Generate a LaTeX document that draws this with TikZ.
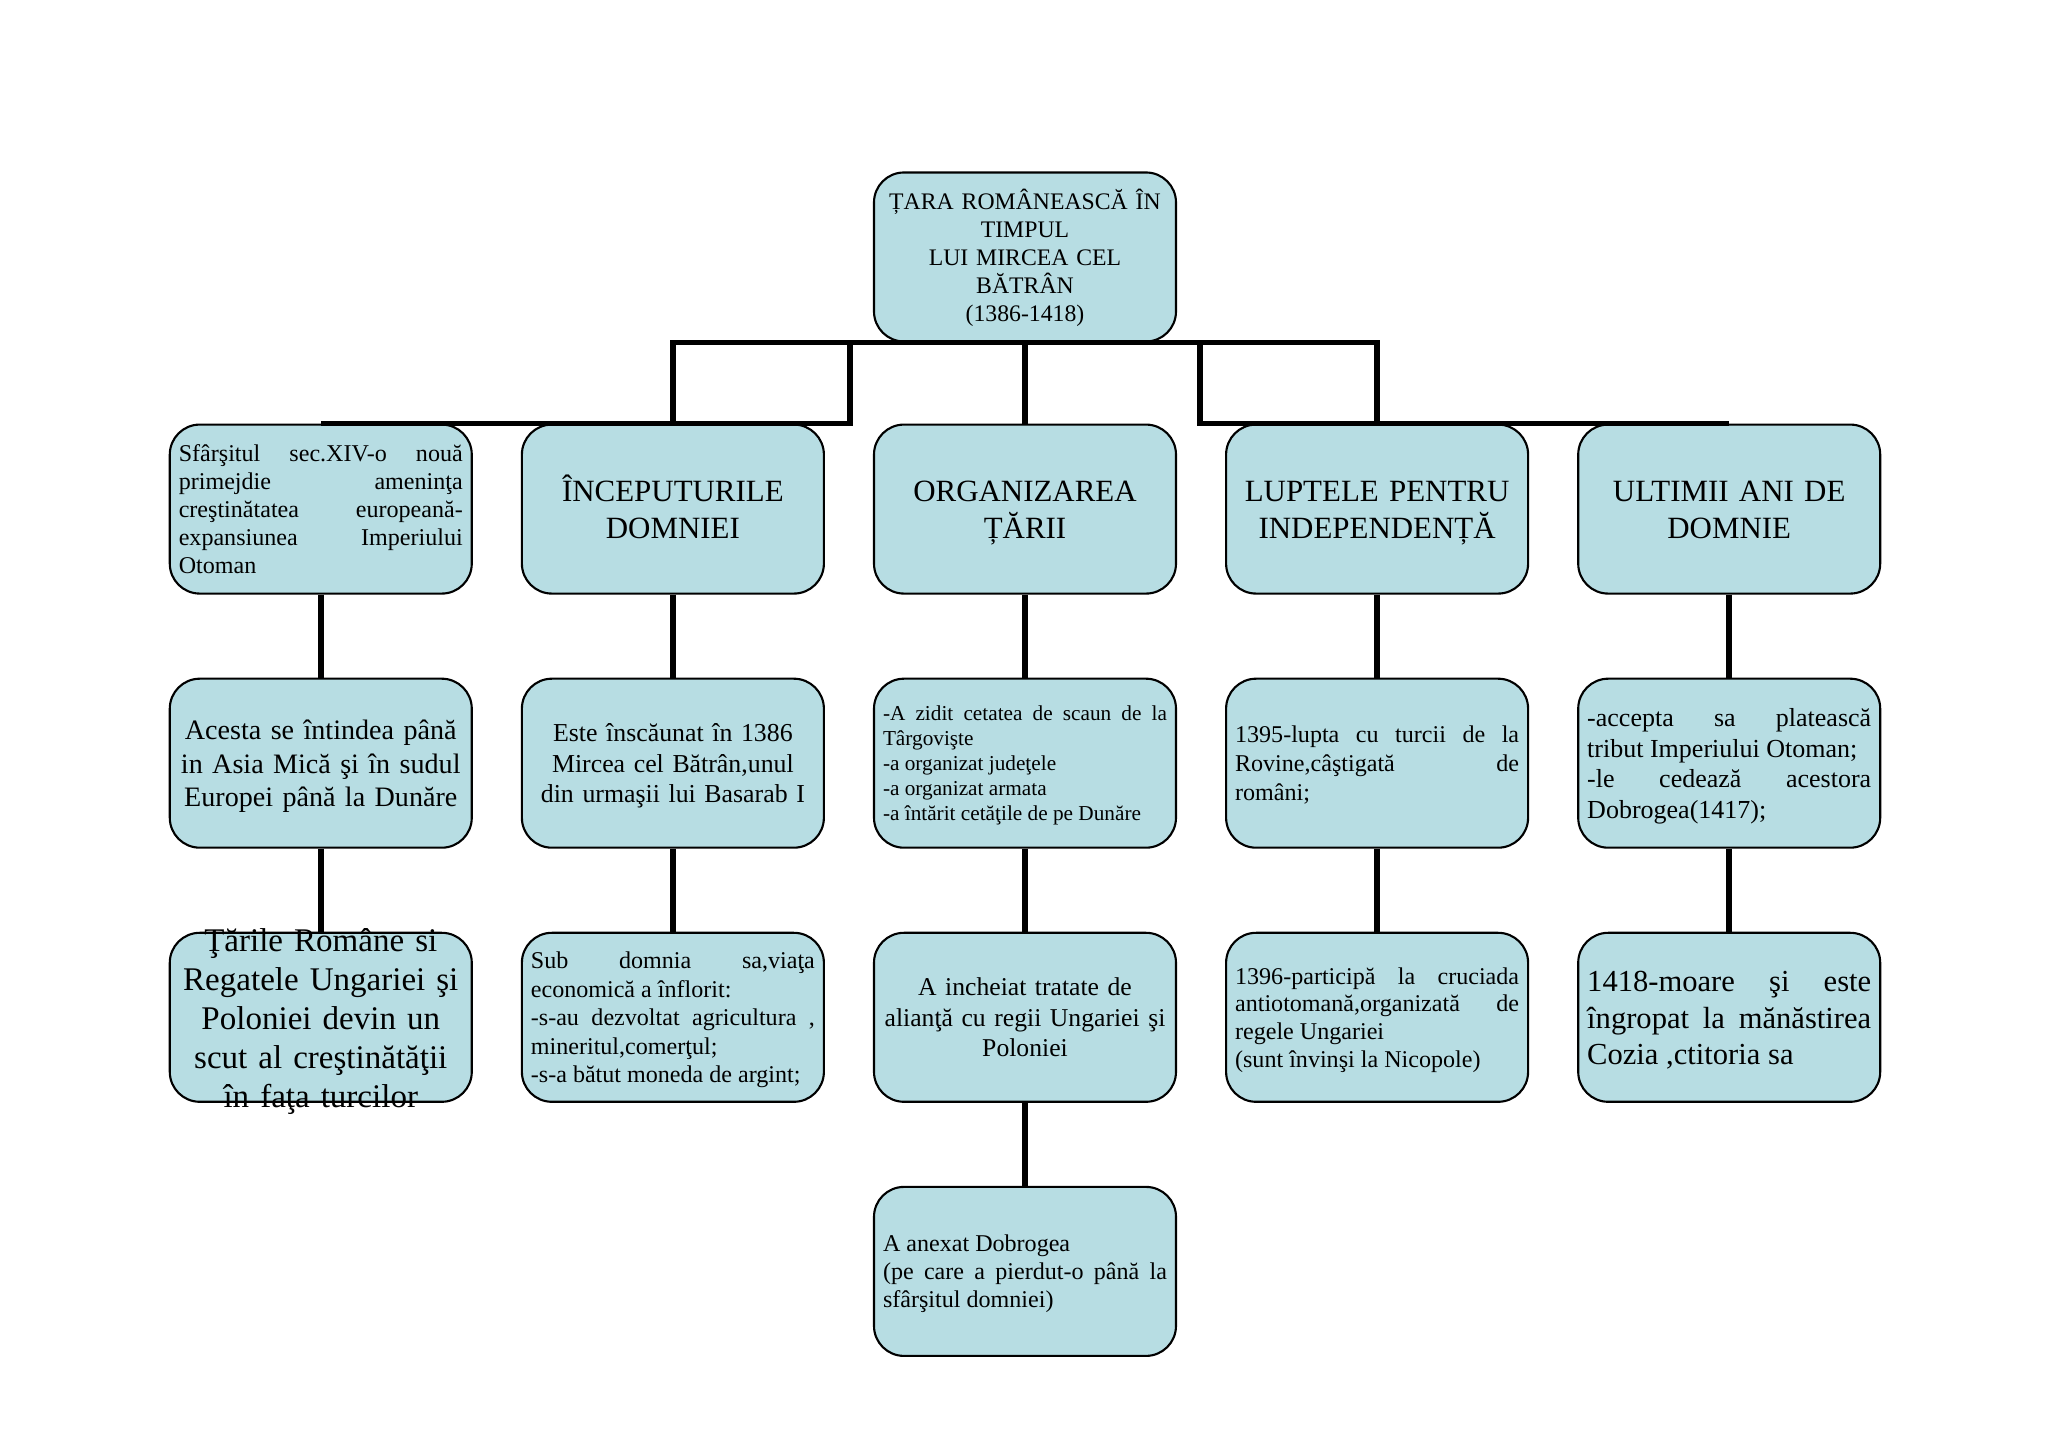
\documentclass[tikz,border=0pt]{standalone}
\usepackage{fontspec}
\setmainfont{Liberation Serif}
\usepackage{xcolor}
\usepackage{tikz}
\usetikzlibrary{positioning}
\definecolor{boxblue}{RGB}{183,221,227}
\newcommand{\topfix}{\rule{0pt}{0.95em}}
\newcommand{\botfix}{\rule[-0.25em]{0pt}{0.25em}}
\tolerance=10000
\hyphenpenalty=10000
\exhyphenpenalty=10000

\begin{document}
\begin{tikzpicture}[node distance=0.83cm and 0.48cm]

\tikzstyle{box} = [rectangle, rounded corners=0.3cm, minimum width=3.02cm, minimum height=1.69cm, text width=2.84cm, inner xsep=0.09cm, inner ysep=0pt, draw=black, line width=0.6pt, fill=boxblue]
\tikzstyle{link} = [line width=1.6pt]

\useasboundingbox (0,0) rectangle (20.48,14.47);

% Nodes
\node (title) [box, align=center, font=\fontsize{6.75}{8}\selectfont] at (10.25,11.9) {\topfix ȚARA ROMÂNEASCĂ ÎN\\ TIMPUL\\ LUI MIRCEA CEL\\ BĂTRÂN\\ (1386-1418)\botfix};

\node (org) [box, align=center, font=\fontsize{8.8}{10.3}\selectfont, below=0.81cm of title] {\topfix ORGANIZAREA\\ ȚĂRII\botfix};
\node (begin) [box, align=center, font=\fontsize{8.8}{10.3}\selectfont, left=of org] {\topfix ÎNCEPUTURILE\\ DOMNIEI\botfix};
\node (danger) [box, align=justify, font=\fontsize{6.85}{8}\selectfont, left=of begin] {\topfix Sfârşitul sec.XIV-o nouă\linebreak primejdie ameninţa\linebreak creştinătatea europeană-\linebreak expansiunea Imperiului\linebreak Otoman\botfix};
\node (fight) [box, align=center, font=\fontsize{8.8}{10.3}\selectfont, right=of org] {\topfix LUPTELE PENTRU\\ INDEPENDENȚĂ\botfix};
\node (last) [box, align=center, font=\fontsize{8.8}{10.3}\selectfont, right=of fight] {\topfix ULTIMII ANI DE\\ DOMNIE\botfix};

\node (empire) [box, align=center, font=\fontsize{8}{9.5}\selectfont, below=of danger] {\topfix Acesta se întindea până\\ in Asia Mică şi în sudul\\ Europei până la Dunăre\botfix};
\node (throne) [box, align=center, font=\fontsize{7.35}{8.7}\selectfont, below=of begin] {\topfix Este înscăunat în 1386\\ Mircea cel Bătrân,unul\\ din urmaşii lui Basarab I\botfix};
\node (works) [box, align=justify, font=\fontsize{6.05}{7.1}\selectfont, below=of org] {\topfix -A zidit cetatea de scaun de la\linebreak Târgovişte\\ -a organizat judeţele\\ -a organizat armata\\ -a întărit cetăţile de pe Dunăre\botfix};
\node (rovine) [box, align=justify, font=\fontsize{6.85}{8.2}\selectfont, below=of fight] {\topfix 1395-lupta cu turcii de la\linebreak Rovine,câştigată de\linebreak români;\botfix};
\node (tribute) [box, align=justify, font=\fontsize{7.4}{8.7}\selectfont, below=of last] {\topfix -accepta sa platească\linebreak tribut Imperiului Otoman;\\ -le cedează acestora\linebreak Dobrogea(1417);\botfix};

\node (shield) [box, align=center, font=\fontsize{9.4}{11.1}\selectfont, below=of empire] {\smash{\raisebox{-3.5pt}{\parbox[c]{2.84cm}{\centering Ţările Române si\\ Regatele Ungariei şi\\ Poloniei devin un\\ scut al creştinătăţii\\ în faţa turcilor}}}};
\node (economy) [box, align=justify, font=\fontsize{6.85}{8.1}\selectfont, below=of throne] {\topfix Sub domnia sa,viaţa\linebreak economică a înflorit:\\ -s-au dezvoltat agricultura ,\linebreak mineritul,comerţul;\\ -s-a bătut moneda de argint;\botfix};
\node (treaties) [box, align=center, font=\fontsize{7.3}{8.7}\selectfont, below=of works] {\topfix A incheiat tratate de\\ alianţă cu regii Ungariei şi\\ Poloniei\botfix};
\node (nicopole) [box, align=justify, font=\fontsize{6.85}{7.9}\selectfont, below=of rovine] {\topfix 1396-participă la cruciada\linebreak antiotomană,organizată de\linebreak regele Ungariei\\ (sunt învinşi la Nicopole)\botfix};
\node (death) [box, align=justify, font=\fontsize{8.7}{10.4}\selectfont, below=of tribute] {\topfix 1418-moare şi este\linebreak îngropat la mănăstirea\linebreak Cozia ,ctitoria sa\botfix};

\node (dobrogea) [box, align=justify, font=\fontsize{6.85}{8}\selectfont, below=of treaties] {\topfix A anexat Dobrogea\\ (pe care a pierdut-o până la\linebreak sfârşitul domniei)\botfix};

\coordinate [right=0.25cm of begin.north east] (gapL);
\coordinate [left=0.25cm of fight.north west] (gapR);

% Lines
\draw [link] (begin.north) |- (title.south);
\draw [link] (fight.north) |- (title.south);
\draw [link] (org.north) -- (title.south);
\draw [link] (danger.north) -- (gapL) -- (gapL |- title.south);
\draw [link] (last.north) -- (gapR) -- (gapR |- title.south);

\draw [link] (danger) -- (empire);
\draw [link] (empire) -- (shield);
\draw [link] (begin) -- (throne);
\draw [link] (throne) -- (economy);
\draw [link] (org) -- (works);
\draw [link] (works) -- (treaties);
\draw [link] (treaties) -- (dobrogea);
\draw [link] (fight) -- (rovine);
\draw [link] (rovine) -- (nicopole);
\draw [link] (last) -- (tribute);
\draw [link] (tribute) -- (death);

\end{tikzpicture}
\end{document}
